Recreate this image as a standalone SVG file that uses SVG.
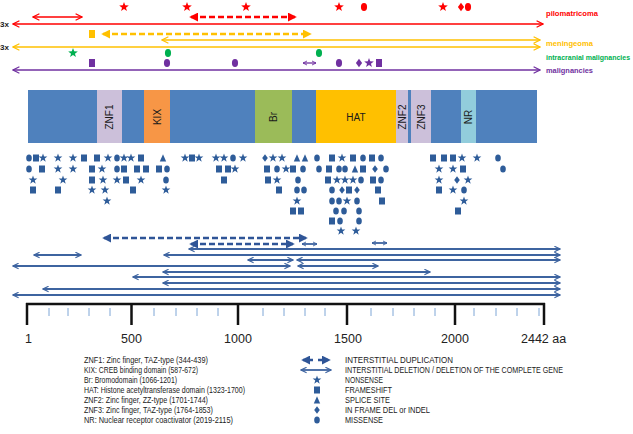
<svg xmlns="http://www.w3.org/2000/svg" xmlns:xlink="http://www.w3.org/1999/xlink" width="633" height="434" viewBox="0 0 633 434">
<style>
.dom{font-family:"Liberation Sans",Arial,sans-serif;font-size:10px;fill:#1a1a1a}
.ax{font-family:"Liberation Sans",Arial,sans-serif;font-size:12.5px;fill:#222}
.lg{font-family:"Liberation Sans",Arial,sans-serif;font-size:9px;fill:#222}
.lab{font-family:"Liberation Sans",Arial,sans-serif;font-size:8px;font-weight:bold}
.blue{stroke:#3E64A0;stroke-width:1.8;fill:none}
.bdash{stroke:#2F5597;stroke-width:2.5;stroke-dasharray:6 3;fill:none}
</style>
<defs>
<path id="st" d="M0,-4.6 L1.09,-1.5 L4.37,-1.42 L1.76,0.57 L2.7,3.72 L0,1.85 L-2.7,3.72 L-1.76,0.57 L-4.37,-1.42 L-1.09,-1.5 Z"/>
<rect id="sq" x="-3" y="-3.5" width="6" height="7"/>
<ellipse id="ov" cx="0" cy="0" rx="2.8" ry="3.6"/>
<path id="tr" d="M0,-3.8 L3.2,3.4 L-3.2,3.4 Z"/>
<path id="di" d="M0,-3.8 L2.8,0 L0,3.8 L-2.8,0 Z"/>
<marker id="oR" viewBox="0 0 10 10" refX="9" refY="5" markerWidth="8" markerHeight="8" markerUnits="userSpaceOnUse" orient="auto-start-reverse"><path d="M1,1 L9,5 L1,9" fill="none" stroke="#FF0000" stroke-width="1.5"/></marker>
<marker id="fR" viewBox="0 0 10 10" refX="8" refY="5" markerWidth="9" markerHeight="9" markerUnits="userSpaceOnUse" orient="auto-start-reverse"><path d="M0,0 L10,5 L0,10 Z" fill="#FF0000"/></marker>
<marker id="oY" viewBox="0 0 10 10" refX="9" refY="5" markerWidth="8" markerHeight="8" markerUnits="userSpaceOnUse" orient="auto-start-reverse"><path d="M1,1 L9,5 L1,9" fill="none" stroke="#FFC000" stroke-width="1.5"/></marker>
<marker id="fY" viewBox="0 0 10 10" refX="8" refY="5" markerWidth="9" markerHeight="9" markerUnits="userSpaceOnUse" orient="auto-start-reverse"><path d="M0,0 L10,5 L0,10 Z" fill="#FFC000"/></marker>
<marker id="oP" viewBox="0 0 10 10" refX="9" refY="5" markerWidth="8" markerHeight="8" markerUnits="userSpaceOnUse" orient="auto-start-reverse"><path d="M1,1 L9,5 L1,9" fill="none" stroke="#7030A0" stroke-width="1.5"/></marker>
<marker id="oPs" viewBox="0 0 10 10" refX="9" refY="5" markerWidth="5" markerHeight="7" markerUnits="userSpaceOnUse" orient="auto-start-reverse"><path d="M1,1 L9,5 L1,9" fill="none" stroke="#7030A0" stroke-width="1.8"/></marker>
<marker id="oB" viewBox="0 0 10 10" refX="9" refY="5" markerWidth="7" markerHeight="7" markerUnits="userSpaceOnUse" orient="auto-start-reverse"><path d="M1,1 L9,5 L1,9" fill="none" stroke="#3E64A0" stroke-width="1.6"/></marker>
<marker id="oBs" viewBox="0 0 10 10" refX="9" refY="5" markerWidth="5" markerHeight="7" markerUnits="userSpaceOnUse" orient="auto-start-reverse"><path d="M1,1 L9,5 L1,9" fill="none" stroke="#3E64A0" stroke-width="1.8"/></marker>
<marker id="fB" viewBox="0 0 10 10" refX="8" refY="5" markerWidth="9" markerHeight="9" markerUnits="userSpaceOnUse" orient="auto-start-reverse"><path d="M0,0 L10,5 L0,10 Z" fill="#2F5597"/></marker>
</defs>
<rect width="633" height="434" fill="#fff"/>

<g id="tracks-labels">
<text class="lab" x="0" y="27" fill="#222">3x</text>
<text class="lab" x="0" y="50" fill="#222">3x</text>
<text class="lab" x="546" y="16" fill="#FF0000" textLength="52" lengthAdjust="spacingAndGlyphs">pilomatricoma</text>
<text class="lab" x="546" y="46" fill="#FFC000" textLength="47" lengthAdjust="spacingAndGlyphs">meningeoma</text>
<text class="lab" x="546" y="60" fill="#00B050" style="font-size:7px">intracranial malignancies</text>
<text class="lab" x="546" y="73" fill="#7030A0" textLength="47" lengthAdjust="spacingAndGlyphs">malignancies</text>
</g>

<g id="track-symbols">
<g fill="#FF0000">
<use href="#st" transform="translate(124,7) scale(1.1)"/>
<use href="#st" transform="translate(187,7) scale(1.1)"/>
<use href="#st" transform="translate(246,7) scale(1.1)"/>
<use href="#st" transform="translate(339,7) scale(1.1)"/>
<use href="#st" transform="translate(443,7) scale(1.1)"/>
<use href="#ov" transform="translate(364,7) scale(1.1)"/>
<use href="#di" transform="translate(461,7) scale(1.1)"/>
<use href="#ov" transform="translate(468,7) scale(1.1)"/>
</g>
<rect x="89" y="30" width="6" height="8" fill="#FFC000"/>
<g fill="#00B050">
<use href="#st" transform="translate(73,53) scale(1.1)"/>
<use href="#ov" transform="translate(168,53) scale(1.1)"/>
<use href="#ov" transform="translate(319,53) scale(1.1)"/>
</g>
<g fill="#7030A0">
<rect x="89" y="59" width="6" height="8"/>
<use href="#ov" transform="translate(167,63) scale(1.1)"/>
<use href="#ov" transform="translate(235,63) scale(1.1)"/>
<use href="#ov" transform="translate(339,63) scale(1.1)"/>
<use href="#di" transform="translate(359,63) scale(1.1)"/>
<use href="#st" transform="translate(369,63) scale(1.1)"/>
<rect x="376" y="59" width="6" height="8"/>
</g>
</g>

<g id="domains">
<g id="bar"><rect x="28" y="90" width="509" height="53" fill="#4F81BD"/></g>
<g id="ZNF1"><rect x="97" y="90" width="25" height="53" fill="#CCC0DA"/><text class="dom" transform="translate(113,117) rotate(-90)" text-anchor="middle">ZNF1</text></g>
<g id="KIX"><rect x="144" y="90" width="26" height="53" fill="#F79646"/><text class="dom" transform="translate(161,117) rotate(-90)" text-anchor="middle">KIX</text></g>
<g id="Br"><rect x="255" y="90" width="37" height="53" fill="#9BBB59"/><text class="dom" transform="translate(277,117) rotate(-90)" text-anchor="middle">Br</text></g>
<g id="HAT"><rect x="316" y="90" width="80" height="53" fill="#FFC000"/><text class="dom" x="356" y="121" text-anchor="middle">HAT</text></g>
<g id="ZNF2"><rect x="396" y="90" width="12" height="53" fill="#CCC0DA"/><text class="dom" transform="translate(405.5,117) rotate(-90)" text-anchor="middle">ZNF2</text></g>
<g id="ZNF3"><rect x="411" y="90" width="20" height="53" fill="#CCC0DA"/><text class="dom" transform="translate(424.5,117) rotate(-90)" text-anchor="middle">ZNF3</text></g>
<g id="NR"><rect x="461" y="90" width="15" height="53" fill="#92CDDC"/><text class="dom" transform="translate(472,117) rotate(-90)" text-anchor="middle">NR</text></g>
</g>

<g id="mutations" fill="#2E5C99">
<use href="#ov" x="29" y="158"/><use href="#sq" x="36" y="158"/><use href="#st" x="43" y="158"/><use href="#st" x="58" y="158"/><use href="#st" x="73" y="158"/><use href="#sq" x="84" y="158"/><use href="#sq" x="97" y="158"/><use href="#st" x="108" y="158"/><use href="#ov" x="117" y="158"/><use href="#st" x="124" y="158"/><use href="#st" x="131" y="158"/><use href="#sq" x="141" y="158"/><use href="#tr" x="163" y="158"/><use href="#st" x="185" y="158"/><use href="#sq" x="192" y="158"/><use href="#st" x="199" y="158"/><use href="#st" x="216" y="158"/><use href="#st" x="224" y="158"/><use href="#ov" x="233" y="158"/><use href="#st" x="243" y="158"/><use href="#di" x="265" y="158"/><use href="#st" x="273" y="158"/><use href="#st" x="282" y="158"/><use href="#tr" x="297" y="158"/><use href="#tr" x="305" y="158"/><use href="#ov" x="317" y="158"/><use href="#sq" x="332" y="158"/><use href="#st" x="342" y="158"/><use href="#sq" x="353" y="158"/><use href="#ov" x="363" y="158"/><use href="#sq" x="372" y="158"/><use href="#ov" x="381" y="158"/><use href="#sq" x="433" y="158"/><use href="#sq" x="444" y="158"/><use href="#sq" x="453" y="158"/><use href="#st" x="462" y="158"/><use href="#st" x="477" y="158"/><use href="#ov" x="498" y="158"/>
<use href="#ov" x="29" y="169"/><use href="#sq" x="42" y="169"/><use href="#st" x="58" y="169"/><use href="#st" x="73" y="169"/><use href="#sq" x="92" y="169"/><use href="#st" x="102" y="169"/><use href="#ov" x="117" y="169"/><use href="#sq" x="124" y="169"/><use href="#sq" x="137" y="169"/><use href="#sq" x="146" y="169"/><use href="#sq" x="159" y="169"/><use href="#ov" x="167" y="169"/><use href="#sq" x="219" y="169"/><use href="#sq" x="228" y="169"/><use href="#st" x="235" y="169"/><use href="#sq" x="267" y="169"/><use href="#ov" x="277" y="169"/><use href="#st" x="286" y="169"/><use href="#sq" x="293" y="169"/><use href="#ov" x="303" y="169"/><use href="#ov" x="319" y="169"/><use href="#sq" x="329" y="169"/><use href="#ov" x="339" y="169"/><use href="#ov" x="345" y="169"/><use href="#tr" x="355" y="169"/><use href="#sq" x="363" y="169"/><use href="#di" x="375" y="169"/><use href="#ov" x="386" y="169"/><use href="#st" x="439" y="169"/><use href="#st" x="453" y="169"/><use href="#sq" x="463" y="169"/><use href="#ov" x="503" y="169"/>
<use href="#st" x="33" y="180"/><use href="#st" x="63" y="180"/><use href="#sq" x="92" y="180"/><use href="#st" x="103" y="180"/><use href="#st" x="117" y="180"/><use href="#sq" x="126" y="180"/><use href="#st" x="141" y="180"/><use href="#ov" x="166" y="180"/><use href="#sq" x="224" y="180"/><use href="#sq" x="268" y="180"/><use href="#st" x="277" y="180"/><use href="#ov" x="298" y="180"/><use href="#sq" x="328" y="180"/><use href="#st" x="337" y="180"/><use href="#st" x="345" y="180"/><use href="#st" x="353" y="180"/><use href="#ov" x="361" y="180"/><use href="#sq" x="373" y="180"/><use href="#ov" x="381" y="180"/><use href="#st" x="439" y="180"/><use href="#di" x="457" y="180"/><use href="#st" x="468" y="180"/>
<use href="#sq" x="33" y="190"/><use href="#sq" x="58" y="190"/><use href="#st" x="92" y="190"/><use href="#st" x="105" y="190"/><use href="#sq" x="133" y="190"/><use href="#st" x="166" y="190"/><use href="#sq" x="279" y="190"/><use href="#ov" x="297" y="190"/><use href="#ov" x="304" y="190"/><use href="#ov" x="332" y="190"/><use href="#di" x="342" y="190"/><use href="#sq" x="349" y="190"/><use href="#di" x="357" y="190"/><use href="#sq" x="378" y="190"/><use href="#sq" x="439" y="190"/><use href="#st" x="453" y="190"/><use href="#ov" x="464" y="190"/>
<use href="#st" x="107" y="201"/><use href="#st" x="297" y="201"/><use href="#ov" x="332" y="201"/><use href="#ov" x="339" y="201"/><use href="#st" x="347" y="201"/><use href="#ov" x="357" y="201"/><use href="#sq" x="382" y="201"/><use href="#st" x="464" y="201"/>
<use href="#sq" x="293" y="211"/><use href="#sq" x="301" y="211"/><use href="#ov" x="336" y="211"/><use href="#ov" x="344" y="211"/><use href="#ov" x="359" y="211"/><use href="#sq" x="458" y="211"/>
<use href="#sq" x="332" y="221"/><use href="#ov" x="340" y="221"/><use href="#ov" x="359" y="221"/>
<use href="#st" x="341" y="231"/><use href="#st" x="356" y="231"/>
</g>

<g id="connectors">
<line x1="33" y1="17" x2="82" y2="17" stroke="#FF0000" stroke-width="1.3" marker-start="url(#oR)" marker-end="url(#oR)"/>
<line x1="191" y1="17" x2="295" y2="17" stroke="#FF0000" stroke-width="2.5" stroke-dasharray="6 3" marker-start="url(#fR)" marker-end="url(#fR)"/>
<line x1="13" y1="24" x2="543" y2="24" stroke="#FF0000" stroke-width="1.5" marker-start="url(#oR)" marker-end="url(#oR)"/>
<line x1="103" y1="34" x2="310" y2="34" stroke="#FFC000" stroke-width="2.5" stroke-dasharray="6 3" marker-start="url(#fY)" marker-end="url(#fY)"/>
<line x1="162" y1="40" x2="540" y2="40" stroke="#FFC000" stroke-width="1.5" marker-start="url(#oY)" marker-end="url(#oY)"/>
<line x1="13" y1="47" x2="540" y2="47" stroke="#FFC000" stroke-width="1.5" marker-start="url(#oY)" marker-end="url(#oY)"/>
<line x1="303" y1="63" x2="316" y2="63" stroke="#7030A0" stroke-width="1.3" marker-start="url(#oPs)" marker-end="url(#oPs)"/>
<line x1="13" y1="70" x2="540" y2="70" stroke="#7030A0" stroke-width="1.5" marker-start="url(#oP)" marker-end="url(#oP)"/>
<line class="bdash" x1="104" y1="238" x2="306" y2="238" marker-start="url(#fB)" marker-end="url(#fB)"/>
<line class="bdash" x1="191" y1="244" x2="293" y2="244" marker-start="url(#fB)" marker-end="url(#fB)"/>
<line class="blue" x1="302" y1="244" x2="317" y2="244" stroke-width="1.3" marker-start="url(#oBs)" marker-end="url(#oBs)"/>
<line class="blue" x1="372" y1="243" x2="387" y2="243" stroke-width="1.3" marker-start="url(#oBs)" marker-end="url(#oBs)"/>
<line class="blue" x1="189" y1="249" x2="560" y2="249" marker-start="url(#oB)" marker-end="url(#oB)"/>
<line class="blue" x1="34" y1="255" x2="81" y2="255" marker-start="url(#oB)" marker-end="url(#oB)"/>
<line class="blue" x1="164" y1="255" x2="560" y2="255" marker-start="url(#oB)" marker-end="url(#oB)"/>
<line class="blue" x1="248" y1="260" x2="293" y2="260" marker-start="url(#oB)" marker-end="url(#oB)"/>
<line class="blue" x1="297" y1="260" x2="560" y2="260" marker-start="url(#oB)" marker-end="url(#oB)"/>
<line class="blue" x1="13" y1="266" x2="290" y2="266" marker-start="url(#oB)" marker-end="url(#oB)"/>
<line class="blue" x1="298" y1="266" x2="378" y2="266" marker-start="url(#oB)" marker-end="url(#oB)"/>
<line class="blue" x1="163" y1="272" x2="430" y2="272" marker-start="url(#oB)" marker-end="url(#oB)"/>
<line class="blue" x1="133" y1="277" x2="560" y2="277" marker-start="url(#oB)" marker-end="url(#oB)"/>
<line class="blue" x1="163" y1="283" x2="560" y2="283" marker-start="url(#oB)" marker-end="url(#oB)"/>
<line class="blue" x1="43" y1="289" x2="560" y2="289" marker-start="url(#oB)" marker-end="url(#oB)"/>
<line class="blue" x1="13" y1="295" x2="560" y2="295" marker-start="url(#oB)" marker-end="url(#oB)"/>
</g>

<g id="axis">
<line x1="26" y1="304" x2="545" y2="304" stroke="#111" stroke-width="2.5"/>
<g stroke="#111" stroke-width="2.5">
<line x1="27" y1="303" x2="27" y2="325"/><line x1="131.5" y1="303" x2="131.5" y2="325"/><line x1="238" y1="303" x2="238" y2="325"/><line x1="347" y1="303" x2="347" y2="325"/><line x1="455" y1="303" x2="455" y2="325"/><line x1="544" y1="303" x2="544" y2="325"/>
</g>
<g stroke="#7FA6D6" stroke-width="1">
<line x1="49" y1="308" x2="49" y2="316"/><line x1="68" y1="308" x2="68" y2="316"/><line x1="89" y1="308" x2="89" y2="316"/><line x1="110" y1="308" x2="110" y2="316"/>
<line x1="154" y1="308" x2="154" y2="316"/><line x1="176" y1="308" x2="176" y2="316"/><line x1="197" y1="308" x2="197" y2="316"/><line x1="218" y1="308" x2="218" y2="316"/>
<line x1="263" y1="308" x2="263" y2="316"/><line x1="284" y1="308" x2="284" y2="316"/><line x1="305" y1="308" x2="305" y2="316"/><line x1="325" y1="308" x2="325" y2="316"/>
<line x1="371" y1="308" x2="371" y2="316"/><line x1="393" y1="308" x2="393" y2="316"/><line x1="414" y1="308" x2="414" y2="316"/><line x1="435" y1="308" x2="435" y2="316"/>
<line x1="474" y1="308" x2="474" y2="316"/><line x1="496" y1="308" x2="496" y2="316"/><line x1="517" y1="308" x2="517" y2="316"/><line x1="539" y1="308" x2="539" y2="316"/>
</g>
<text class="ax" x="25" y="343">1</text>
<text class="ax" x="131.5" y="343" text-anchor="middle">500</text>
<text class="ax" x="238" y="343" text-anchor="middle">1000</text>
<text class="ax" x="348" y="343" text-anchor="middle">1500</text>
<text class="ax" x="455" y="343" text-anchor="middle">2000</text>
<text class="ax" x="521" y="343">2442 aa</text>
</g>

<g id="legend-domains">
<text class="lg" x="84" y="363" textLength="124" lengthAdjust="spacingAndGlyphs">ZNF1: Zinc finger, TAZ-type (344-439)</text>
<text class="lg" x="84" y="373" textLength="114" lengthAdjust="spacingAndGlyphs">KIX: CREB binding domain (587-672)</text>
<text class="lg" x="84" y="383" textLength="93" lengthAdjust="spacingAndGlyphs">Br: Bromodomain (1066-1201)</text>
<text class="lg" x="84" y="393" textLength="161" lengthAdjust="spacingAndGlyphs">HAT: Histone acetyltransferase domain (1323-1700)</text>
<text class="lg" x="84" y="403" textLength="124" lengthAdjust="spacingAndGlyphs">ZNF2: Zinc finger, ZZ-type (1701-1744)</text>
<text class="lg" x="84" y="413" textLength="129" lengthAdjust="spacingAndGlyphs">ZNF3: Zinc finger, TAZ-type (1764-1853)</text>
<text class="lg" x="84" y="423" textLength="149" lengthAdjust="spacingAndGlyphs">NR: Nuclear receptor coactivator (2019-2115)</text>
</g>

<g id="legend-mutations">
<line x1="303" y1="360" x2="329" y2="360" stroke="#2F5597" stroke-width="2.5" stroke-dasharray="10 5" marker-start="url(#fB)" marker-end="url(#fB)"/>
<line class="blue" x1="301" y1="370" x2="331" y2="370" marker-start="url(#oB)" marker-end="url(#oB)"/>
<g fill="#2E5C99">
<use href="#st" x="317" y="380"/>
<use href="#sq" x="317" y="390"/>
<use href="#tr" x="317" y="400"/>
<use href="#di" x="317" y="410"/>
<use href="#ov" x="317" y="420"/>
</g>
<text class="lg" x="345" y="363" textLength="108" lengthAdjust="spacingAndGlyphs">INTERSTITIAL DUPLICATION</text>
<text class="lg" x="345" y="373" textLength="218" lengthAdjust="spacingAndGlyphs">INTERSTITIAL DELETION / DELETION OF THE COMPLETE GENE</text>
<text class="lg" x="345" y="383" textLength="38" lengthAdjust="spacingAndGlyphs">NONSENSE</text>
<text class="lg" x="345" y="393" textLength="47" lengthAdjust="spacingAndGlyphs">FRAMESHIFT</text>
<text class="lg" x="345" y="403" textLength="45" lengthAdjust="spacingAndGlyphs">SPLICE SITE</text>
<text class="lg" x="345" y="413" textLength="85" lengthAdjust="spacingAndGlyphs">IN FRAME DEL or INDEL</text>
<text class="lg" x="345" y="423" textLength="38" lengthAdjust="spacingAndGlyphs">MISSENSE</text>
</g>
</svg>
